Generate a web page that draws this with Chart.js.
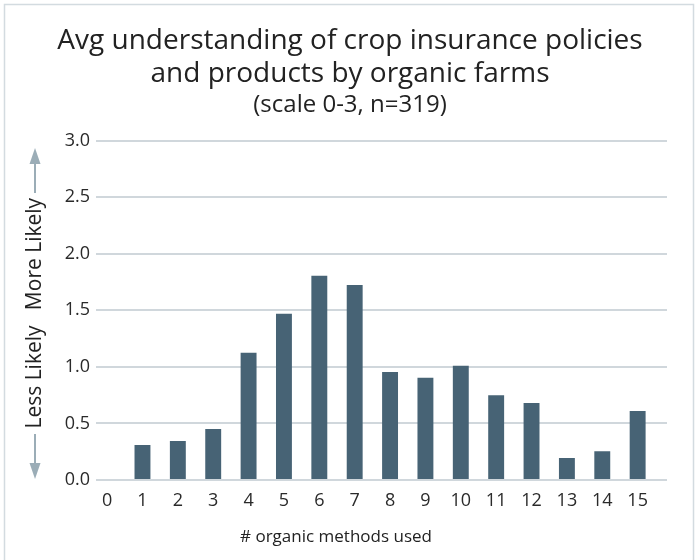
<!DOCTYPE html>
<html>
<head>
<meta charset="utf-8">
<script src="https://cdn.jsdelivr.net/npm/chart.js@4/dist/chart.umd.min.js"></script>
<style>
  html, body { margin: 0; padding: 0; background: #fff; }
</style>
</head>
<body>
<canvas id="myBarChart" width="700" height="560"></canvas>
<script>
// # organic methods used (x categories)
var methods = [0, 1, 2, 3, 4, 5, 6, 7, 8, 9, 10, 11, 12, 13, 14, 15];
// avg understanding score, 0-3 scale
var avgScore = [0, 0.31, 0.345, 0.45, 1.125, 1.47, 1.805, 1.725, 0.955, 0.905, 1.01, 0.75, 0.68, 0.195, 0.255, 0.61];
var yTicks = [0, 0.5, 1, 1.5, 2, 2.5, 3];

var FONT = "'Open Sans', sans-serif";

// frame, likelihood arrows and x axis caption
var sideNotes = {
    id: 'sideNotes',
    beforeDraw: function (chart) {
        var c = chart.ctx;
        c.save();
        c.strokeStyle = '#d3dbe0';
        c.lineWidth = 1.5;
        c.strokeRect(4.5, 4.5, 689, 620);
        c.restore();
    },
    afterDraw: function (chart) {
        var c = chart.ctx;
        var x = 35;
        c.save();
        // arrows
        c.strokeStyle = '#9badb7';
        c.fillStyle = '#9badb7';
        c.lineWidth = 2;
        c.beginPath();
        c.moveTo(x, 193); c.lineTo(x, 160);
        c.moveTo(x, 434); c.lineTo(x, 467);
        c.stroke();
        c.beginPath();
        c.moveTo(x, 148); c.lineTo(x - 5.5, 164); c.lineTo(x + 5.5, 164); c.closePath();
        c.fill();
        c.beginPath();
        c.moveTo(x, 479); c.lineTo(x - 5.5, 463); c.lineTo(x + 5.5, 463); c.closePath();
        c.fill();
        // rotated labels
        c.fillStyle = '#222';
        c.font = '21px ' + FONT;
        c.textAlign = 'center';
        c.textBaseline = 'middle';
        c.translate(x, 0);
        c.rotate(-Math.PI / 2);
        c.fillText('More Likely', -254, 0);
        c.fillText('Less Likely', -377, 0);
        c.restore();

        c.save();
        c.fillStyle = '#222';
        c.font = '17px ' + FONT;
        c.textAlign = 'center';
        c.textBaseline = 'middle';
        c.fillText('# organic methods used', 336, 537);
        c.restore();
    }
};

var ctx = document.getElementById('myBarChart').getContext('2d');

var myBarChart = new Chart(ctx, {
    type: 'bar',
    data: {
        datasets: [
            {
                data: methods.map(function (m, i) { return { x: m, y: avgScore[i] }; }),
                backgroundColor: '#476375',
                categoryPercentage: 1,
                barPercentage: 0.45
            }
        ]
    },
    plugins: [sideNotes],
    options: {
        responsive: false,
        animation: false,
        devicePixelRatio: 1,
        layout: {
            padding: { left: 0, right: 0, top: 0, bottom: 0 }
        },
        plugins: {
            legend: { display: false },
            tooltip: { enabled: false },
            title: {
                display: true,
                text: ['Avg understanding of crop insurance policies', 'and products by organic farms'],
                color: '#222',
                font: { family: FONT, size: 28, weight: 'normal', lineHeight: 1.17 },
                padding: { top: 25, bottom: 0 }
            },
            subtitle: {
                display: true,
                text: '(scale 0-3, n=319)',
                color: '#222',
                font: { family: FONT, size: 24, weight: 'normal', lineHeight: 1.2 },
                padding: { top: 0, bottom: 21.4 }
            }
        },
        scales: {
            x: {
                type: 'linear',
                offset: false,
                min: -0.314,
                max: 15.83,
                afterBuildTicks: function (s) {
                    s.ticks = methods.map(function (m) { return { value: m }; });
                },
                afterFit: function (s) { s.height = 80; },
                ticks: {
                    padding: 10,
                    color: '#2a2a2a',
                    font: { family: FONT, size: 18 },
                    maxRotation: 0,
                    minRotation: 0,
                    callback: function (v) { return String(v); }
                },
                grid: { display: false, drawTicks: false },
                border: { display: false }
            },
            y: {
                min: 0,
                max: 3,
                afterBuildTicks: function (s) {
                    s.ticks = yTicks.map(function (t) { return { value: t }; });
                },
                afterFit: function (s) { s.width = 96; },
                ticks: {
                    padding: 6,
                    color: '#2a2a2a',
                    font: { family: FONT, size: 18 },
                    callback: function (v) { return v.toFixed(1); }
                },
                grid: {
                    color: '#d0d7dc',
                    lineWidth: 2,
                    drawTicks: false
                },
                border: { display: false }
            },
            // empty right-hand axis, keeps the plot narrower than the title
            yRight: {
                position: 'right',
                min: 0,
                max: 3,
                afterFit: function (s) { s.width = 33; },
                ticks: { display: false },
                grid: { display: false, drawTicks: false },
                border: { display: false }
            }
        }
    }
});
</script>
</body>
</html>
